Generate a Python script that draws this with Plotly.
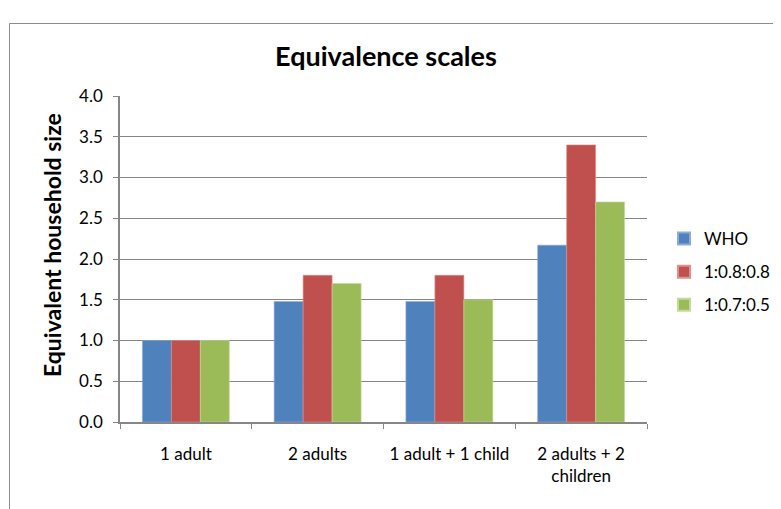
import plotly.graph_objects as go

categories = ["1 adult", "2 adults", "1 adult + 1 child", "2 adults + 2<br>children"]
who = [1.0, 1.48, 1.48, 2.17]
scale_088 = [1.0, 1.8, 1.8, 3.4]
scale_075 = [1.0, 1.7, 1.5, 2.7]
y_ticks = [0.0, 0.5, 1.0, 1.5, 2.0, 2.5, 3.0, 3.5, 4.0]

FONT = "Lato, 'Open Sans', sans-serif"
GRID = "#868686"

fig = go.Figure()
fig.add_bar(x=categories, y=who, name="WHO", legendgroup="a",
            marker=dict(color="#4F81BD", line=dict(color="#8EAADB", width=0.6)))
fig.add_bar(x=categories, y=scale_088, name="1:0.8:0.8", legendgroup="b",
            marker=dict(color="#C0504D", line=dict(color="#E08F8D", width=0.6)))
fig.add_bar(x=categories, y=scale_075, name="1:0.7:0.5", legendgroup="c",
            marker=dict(color="#9BBB59", line=dict(color="#C5DA9A", width=0.6)))

# page is offset by the 8px body margin
OFF = 8
W, H = 781 - OFF, 509 - OFF
L, T = 120 - OFF, 96 - OFF
pw, ph = 527, 326
R, B = W - L - pw, H - T - ph

def px_x(v):
    return (v - OFF - L) / pw

def px_y(v):
    return 1 - (v - OFF - T) / ph

fig.update_layout(
    width=W, height=H,
    margin=dict(l=L, r=R, t=T, b=B, autoexpand=False),
    paper_bgcolor="white", plot_bgcolor="white",
    barmode="group", bargap=0.34, bargroupgap=0,
    font=dict(family=FONT, color="#000000", size=17),
    title=dict(text="<b>Equivalence scales</b>", x=(386 - OFF) / W, xanchor="center",
               y=1 - (57 - OFF) / H, yanchor="middle", font=dict(size=27, family=FONT)),
    legend=dict(x=px_x(664), y=px_y(221), xanchor="left", yanchor="top", font=dict(size=17),
                itemsizing="constant", tracegroupgap=8, bgcolor="rgba(0,0,0,0)"),
    xaxis=dict(showline=True, linecolor=GRID, linewidth=1.5, ticks="outside", tickson="boundaries",
               ticklen=5, tickcolor=GRID, tickfont=dict(size=17), showgrid=False, ticklabelstandoff=16),
    yaxis=dict(range=[0, 4.0], tickvals=y_ticks, tickformat=".1f", showline=True, linecolor=GRID, linewidth=1.5,
               ticks="outside", ticklen=5, tickcolor=GRID, showgrid=True, gridcolor=GRID, gridwidth=1.2,
               zeroline=False, tickfont=dict(size=17), ticklabelstandoff=7),
    annotations=[dict(text="<b>Equivalent household size</b>", textangle=-90, xref="paper", yref="paper",
                      x=px_x(52), y=px_y(245), xanchor="center", yanchor="middle", showarrow=False,
                      font=dict(size=23, family=FONT))],
    shapes=[dict(type="rect", xref="paper", yref="paper", x0=px_x(9.5), x1=px_x(800), y0=px_y(530), y1=px_y(23.5),
                 line=dict(color="#8C8C8C", width=1), fillcolor="rgba(0,0,0,0)", layer="below")],
)

fig.write_html("out.html")
